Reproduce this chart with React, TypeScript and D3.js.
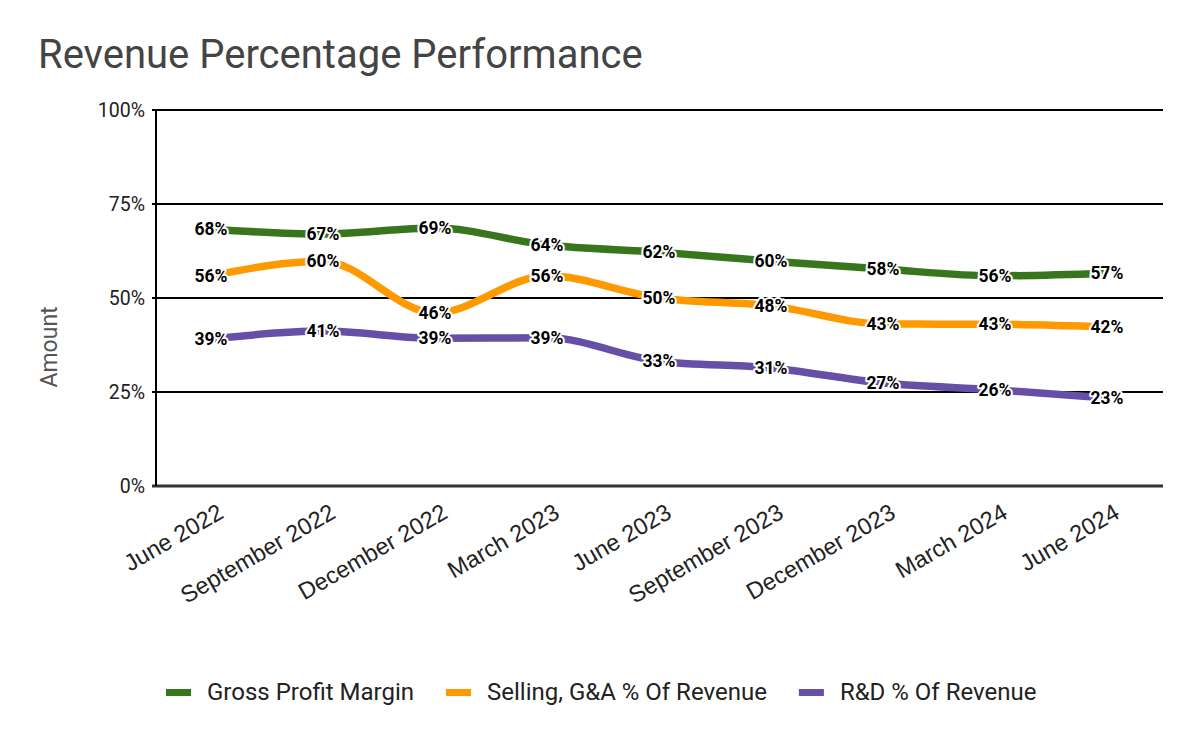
import React, { useEffect, useRef, useState } from "react";
import * as d3 from "d3";

const categories = [
  "June 2022", "September 2022", "December 2022", "March 2023", "June 2023",
  "September 2023", "December 2023", "March 2024", "June 2024",
];
const grossProfitMargin = [68.3, 67.0, 68.6, 64.1, 62.2, 59.8, 57.7, 55.9, 56.6];
const sgaPctRevenue = [55.9, 59.8, 46.0, 55.9, 50.0, 47.9, 43.1, 43.0, 42.3];
const rdPctRevenue = [39.1, 41.2, 39.3, 39.4, 33.2, 31.4, 27.4, 25.6, 23.4];
const yTicks = [0, 25, 50, 75, 100];

const seriesNames = ["Gross Profit Margin", "Selling, G&A % Of Revenue", "R&D % Of Revenue"];
const seriesColors = ["#38761d", "#ff9900", "#674ea7"];
const seriesValues = [grossProfitMargin, sgaPctRevenue, rdPctRevenue];

const W = 1200;
const H = 741;
const plot = { left: 155, right: 1163, top: 110, bottom: 486 };

export default function App() {
  const legendRef = useRef<SVGGElement>(null);
  const [legendX, setLegendX] = useState<number[]>([166, 445, 795]);

  useEffect(() => {
    if (!legendRef.current) return;
    const texts = legendRef.current.querySelectorAll("text");
    const xs: number[] = [];
    let x = 166;
    texts.forEach((t) => {
      xs.push(x);
      x += 25 + 16 + (t as SVGTextElement).getComputedTextLength() + 32;
    });
    setLegendX(xs);
  }, []);

  const x = d3.scalePoint<string>().domain(categories).range([plot.left, plot.right]).padding(0.5);
  const y = d3.scaleLinear().domain([0, 100]).range([plot.bottom, plot.top]);
  const line = d3
    .line<number>()
    .x((_, i) => x(categories[i]) as number)
    .y((d) => y(d))
    .curve(d3.curveMonotoneX);

  return (
    <svg width={W} height={H} style={{ display: "block", position: "absolute", left: 0, top: 0, background: "#fff" }}>
      <rect x={0} y={0} width={W} height={H} fill="#fff" />
      <text x={38} y={68} fontFamily="Roboto" fontSize={40} fill="#444">
        Revenue Percentage Performance
      </text>

      {/* gridlines */}
      {yTicks.map((t) => (
        <line
          key={t}
          x1={plot.left - 3}
          x2={plot.right}
          y1={y(t)}
          y2={y(t)}
          stroke={t === 0 ? "#333" : "#000"}
          strokeWidth={t === 0 ? 3 : 2}
        />
      ))}
      <line x1={plot.left + 1} x2={plot.left + 1} y1={plot.top - 1} y2={plot.bottom} stroke="#000" strokeWidth={2} />

      {/* y tick labels */}
      {yTicks.map((t) => (
        <text
          key={t}
          x={plot.left - 10}
          y={y(t) + 7}
          textAnchor="end"
          fontFamily="Roboto"
          fontSize={19.5}
          fill="#222"
        >
          {t}%
        </text>
      ))}
      <text
        transform={`translate(57,347) rotate(-90)`}
        textAnchor="middle"
        fontFamily="Roboto"
        fontSize={23}
        fill="#555"
      >
        Amount
      </text>

      {/* x labels */}
      {categories.map((c) => (
        <text
          key={c}
          transform={`translate(${(x(c) as number) + 14},${plot.bottom + 31}) rotate(-30)`}
          textAnchor="end"
          fontFamily="Liberation Sans, Arial"
          fontSize={23.5}
          fill="#222"
        >
          {c}
        </text>
      ))}

      {/* lines */}
      {seriesValues.map((vals, si) => (
        <path key={si} d={line(vals) || ""} fill="none" stroke={seriesColors[si]} strokeWidth={7.5} />
      ))}

      {/* data labels */}
      {seriesValues.map((vals, si) =>
        vals.map((v, i) => (
          <text
            key={`${si}-${i}`}
            x={x(categories[i]) as number}
            y={y(v) + 6}
            textAnchor="middle"
            fontFamily="Roboto"
            fontWeight="bold"
            fontSize={17.5}
            fill="#000"
            stroke="#fff"
            strokeWidth={4}
            strokeLinejoin="round"
            style={{ paintOrder: "stroke" }}
          >
            {Math.round(v)}%
          </text>
        ))
      )}

      {/* legend */}
      <g ref={legendRef}>
        {seriesNames.map((n, i) => (
          <g key={n}>
            <rect x={legendX[i]} y={689} width={25} height={7} fill={seriesColors[i]} />
            <text x={legendX[i] + 41} y={700} fontFamily="Roboto" fontSize={24} fill="#222">
              {n}
            </text>
          </g>
        ))}
      </g>
    </svg>
  );
}
